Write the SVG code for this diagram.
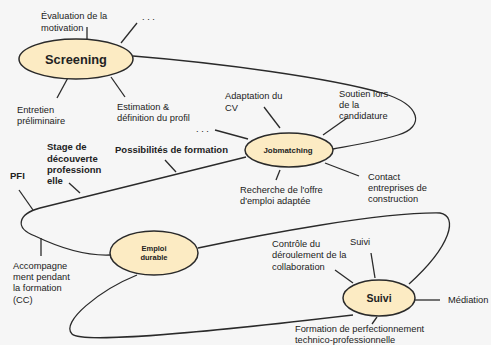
<svg xmlns="http://www.w3.org/2000/svg" width="491" height="345" viewBox="0 0 491 345">
<style>
text{font-family:"Liberation Sans",Arial,sans-serif;fill:#222;font-size:9.3px}
.b{font-weight:bold;font-size:9.5px}
.t1{font-size:12.8px}
.t2{font-size:7.9px}
.t3{font-size:7.5px}
.t4{font-size:10.5px}
.m{text-anchor:middle}
.node{fill:#fcebc3;stroke:#2a2a2a;stroke-width:1.5}
.c path,.c line{fill:none;stroke:#2a2a2a;stroke-width:1.3}
</style>
<rect width="491" height="345" fill="#f6f6f6"/>
<g class="c" id="connectors">
<path d="M133,56 C220,63 330,78 382,93 C422,105 425,127 398,135 C375,142 355,145 333,149"/>
<path d="M246,157 L40,208 C18,214 14,228 35,236 C60,248 85,256 110,255"/>
<path d="M198,248 C260,235 380,212 440,213 C458,216 452,245 409,284"/>
<path d="M137,275 C100,290 60,322 72,334 C82,344 200,333 353,315"/>
<line x1="87" y1="27" x2="87" y2="39"/>
<line x1="137" y1="23" x2="121" y2="43"/>
<line x1="70" y1="74" x2="57" y2="98"/>
<line x1="111" y1="77" x2="125" y2="97"/>
<line x1="215" y1="130" x2="248" y2="139"/>
<line x1="264" y1="107" x2="280" y2="128"/>
<line x1="323" y1="135" x2="347" y2="118"/>
<line x1="325" y1="163" x2="359" y2="176"/>
<line x1="280" y1="170" x2="276" y2="180"/>
<line x1="165" y1="160" x2="176" y2="172"/>
<line x1="69" y1="183" x2="80" y2="193"/>
<line x1="19" y1="190" x2="33" y2="210"/>
<line x1="41" y1="238" x2="41" y2="256"/>
<line x1="335" y1="270" x2="353" y2="283"/>
<line x1="371" y1="253" x2="375" y2="278"/>
<line x1="415" y1="300" x2="440" y2="300"/>
<line x1="377" y1="317" x2="372" y2="324"/>
</g>
<g id="screening">
<ellipse class="node" cx="76" cy="59" rx="57" ry="20"/>
<text class="b t1 m" x="76" y="63.5">Screening</text>
</g>
<g id="jobmatching">
<ellipse class="node" cx="289" cy="150" rx="44" ry="17"/>
<text class="b t2 m" x="288" y="152.5">Jobmatching</text>
</g>
<g id="emploi">
<ellipse class="node" cx="154" cy="253" rx="44" ry="22"/>
<text class="b t3 m" x="154" y="250.5">Emploi</text>
<text class="b t3 m" x="154" y="260">durable</text>
</g>
<g id="suivi">
<ellipse class="node" cx="379" cy="298" rx="36" ry="18"/>
<text class="b t4 m" x="379" y="302">Suivi</text>
</g>
<g id="labels">
<text x="41" y="19">Évaluation de la</text>
<text x="41" y="31">motivation</text>
<text x="142" y="20">. . .</text>
<text x="17" y="113">Entretien</text>
<text x="17" y="124">préliminaire</text>
<text x="117" y="110">Estimation &amp;</text>
<text x="117" y="121">définition du profil</text>
<text x="196" y="132">. . .</text>
<text x="225" y="99">Adaptation du</text>
<text x="225" y="111">CV</text>
<text x="339" y="97">Soutien lors</text>
<text x="339" y="108">de la</text>
<text x="339" y="119">candidature</text>
<text x="368" y="180">Contact</text>
<text x="368" y="191">entreprises de</text>
<text x="368" y="202">construction</text>
<text x="240" y="193">Recherche de l'offre</text>
<text x="240" y="204">d'emploi adaptée</text>
<text class="b" x="115" y="153">Possibilités de formation</text>
<text class="b" x="47" y="150">Stage de</text>
<text class="b" x="47" y="162">découverte</text>
<text class="b" x="47" y="173">professionn</text>
<text class="b" x="47" y="184">elle</text>
<text class="b" x="10" y="179">PFI</text>
<text x="13" y="269">Accompagne</text>
<text x="13" y="280">ment pendant</text>
<text x="13" y="291">la formation</text>
<text x="13" y="303">(CC)</text>
<text x="272" y="247">Contrôle du</text>
<text x="272" y="258">déroulement de la</text>
<text x="272" y="270">collaboration</text>
<text x="350" y="245">Suivi</text>
<text x="448" y="303">Médiation</text>
<text x="295" y="332">Formation de perfectionnement</text>
<text x="295" y="343">technico-professionnelle</text>
</g>
</svg>
